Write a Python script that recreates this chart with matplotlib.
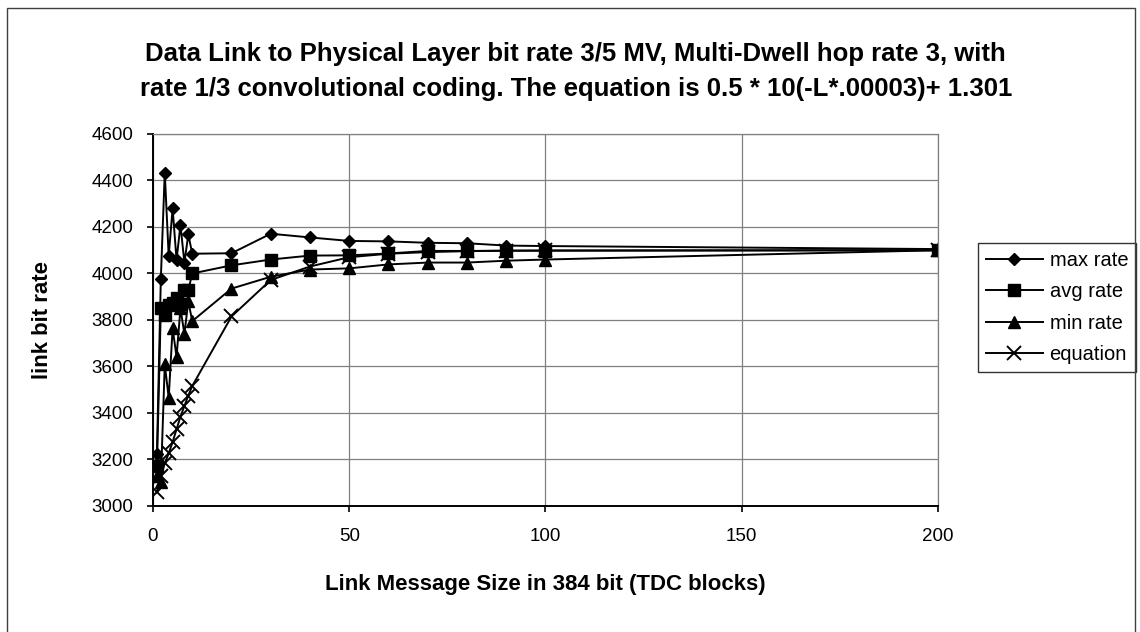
import matplotlib
matplotlib.use("Agg")
import matplotlib.pyplot as plt
from matplotlib.patches import Rectangle

plt.rcParams['font.family'] = ['Liberation Sans', 'DejaVu Sans']

# message size in 384 bit blocks
sizes = [1, 2, 3, 4, 5, 6, 7, 8, 9, 10, 20, 30, 40, 50, 60, 70, 80, 90, 100, 200]

max_rate = [3225, 3978, 4434, 4075, 4280, 4058, 4209, 4046, 4168, 4085,
            4087, 4171, 4155, 4140, 4138, 4132, 4130, 4120, 4118, 4105]
avg_rate = [3170, 3850, 3820, 3865, 3875, 3895, 3870, 3930, 3928, 4000,
            4035, 4060, 4077, 4078, 4086, 4097, 4097, 4098, 4098, 4100]
min_rate = [3130, 3103, 3610, 3465, 3764, 3642, 3850, 3740, 3880, 3795,
            3935, 3986, 4017, 4022, 4039, 4047, 4047, 4055, 4060, 4100]
equation = [3062, 3130, 3183, 3226, 3275, 3330, 3384, 3430, 3475, 3516,
            3815, 3972, 4030, 4070, 4085, 4092, 4096, 4098, 4099, 4100]

fig = plt.figure(figsize=(11.4, 6.32), dpi=100)
ax = fig.add_axes([0.1342, 0.1994, 0.6886, 0.5886])

line_kw = dict(color='black', linewidth=1.4)
ax.plot(sizes, max_rate, marker='D', markersize=6.3, label='max rate', **line_kw)
ax.plot(sizes, avg_rate, marker='s', markersize=8.5, label='avg rate', **line_kw)
ax.plot(sizes, min_rate, marker='^', markersize=9, label='min rate', **line_kw)
ax.plot(sizes, equation, marker='x', markersize=9.5, markeredgewidth=1.4,
        label='equation', **line_kw)

ax.set_xlim(0, 200)
ax.set_ylim(3000, 4600)
ax.set_xticks([0, 50, 100, 150, 200])
ax.set_yticks(range(3000, 4601, 200))
ax.grid(True, color='#808080', linewidth=0.9)
ax.set_axisbelow(True)
for side in ['top', 'right']:
    ax.spines[side].set_color('#808080')
    ax.spines[side].set_linewidth(0.9)
for side in ['left', 'bottom']:
    ax.spines[side].set_color('black')
    ax.spines[side].set_linewidth(1.4)
ax.tick_params(direction='out', length=4, width=1.2, labelsize=13.5)
ax.tick_params(axis='x', pad=12)
ax.tick_params(axis='y', pad=10)

ax.set_xlabel('Link Message Size in 384 bit (TDC blocks)', fontsize=16,
              fontweight='bold', labelpad=21)
ax.set_ylabel('link bit rate', fontsize=16, fontweight='bold', labelpad=28)

fig.text(0.505, 0.887,
         'Data Link to Physical Layer bit rate 3/5 MV, Multi-Dwell hop rate 3, with\n'
         'rate 1/3 convolutional coding. The equation is 0.5 * 10(-L*.00003)+ 1.301',
         ha='center', va='center', fontsize=18.5, fontweight='bold', linespacing=1.6)

leg = ax.legend(loc='upper left', bbox_to_anchor=(0.858, 0.616),
                bbox_transform=fig.transFigure, frameon=True, fancybox=False,
                edgecolor='black', fontsize=14.5, handlelength=2.8,
                borderpad=0.4, labelspacing=0.62, handletextpad=0.35,
                borderaxespad=0)
leg.get_frame().set_linewidth(1)

# outer chart border
fig.patches.append(Rectangle((0.006, -0.01), 0.99, 0.997, transform=fig.transFigure,
                             fill=False, edgecolor='#404040', linewidth=1))

fig.savefig('out.png', dpi=100)
